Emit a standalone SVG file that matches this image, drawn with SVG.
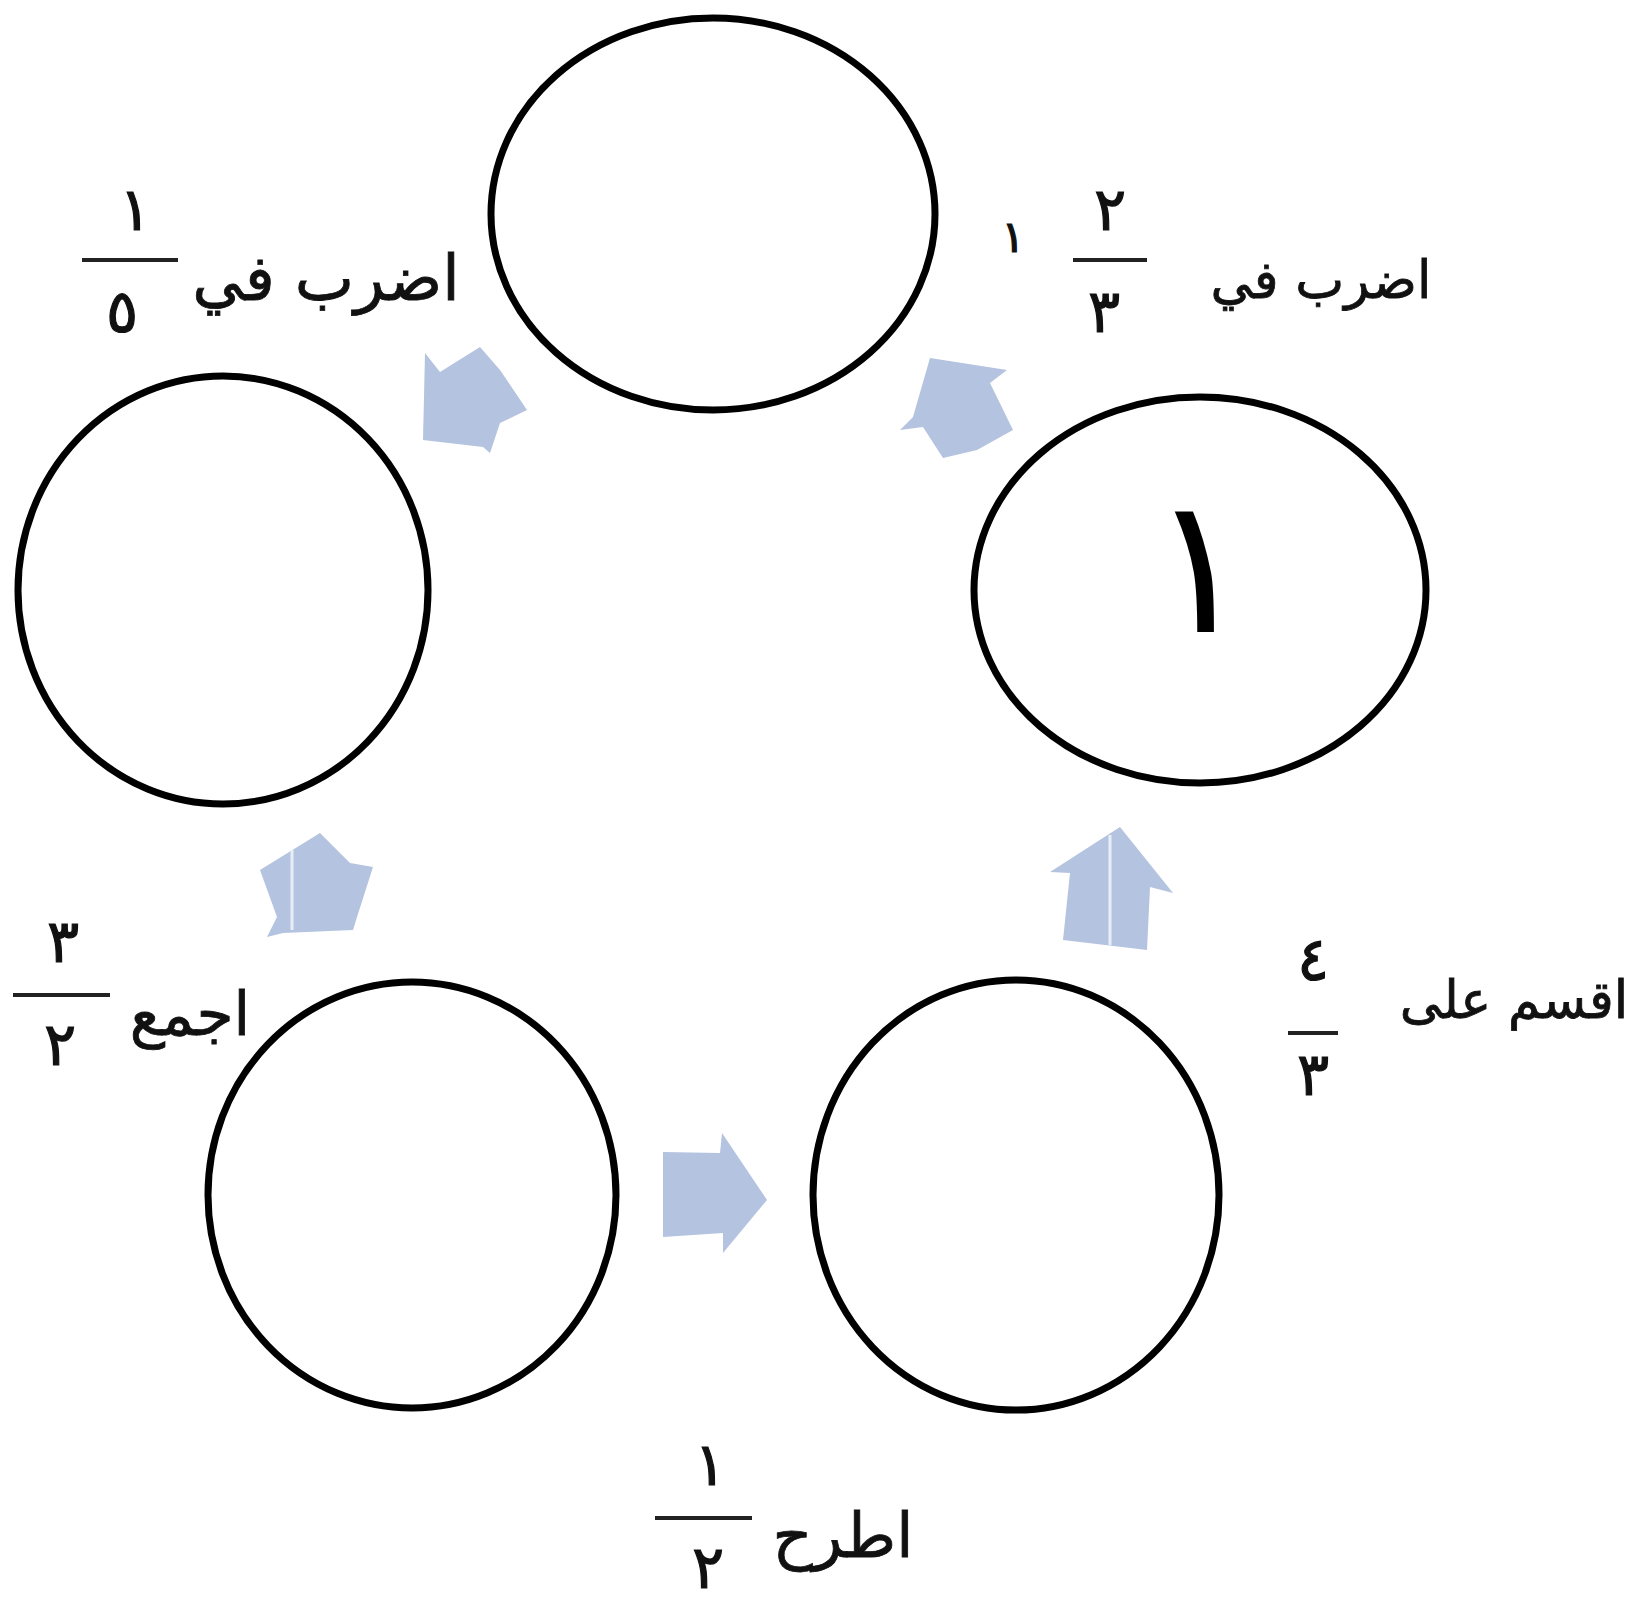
<svg xmlns="http://www.w3.org/2000/svg" width="1637" height="1602" viewBox="0 0 1637 1602">
<style>
.node{fill:none;stroke:#000;stroke-width:7}
.arrow{fill:#b4c3df;stroke:none}
.lbl{font-family:"DejaVu Sans","Noto Sans",sans-serif;font-size:60px;fill:#111;text-anchor:middle;stroke:#111;stroke-width:0.8}
.num{font-family:"DejaVu Sans","Noto Sans",sans-serif;font-size:60px;fill:#111;text-anchor:middle;stroke:#111;stroke-width:1.2}
.bar{stroke:#222;stroke-width:4}
.sep{stroke:#e8eef8;stroke-width:3}
</style>
<rect width="1637" height="1602" fill="#fff"/>
<g id="connectors">
<g id="arrow-top-left"><polygon class="arrow" points="425,353 440,372 480,347 500,370 527,410 500,423 490,453 483,447 423,440"/></g>
<g id="arrow-top-right"><polygon class="arrow" points="930,358 1007,370 990,383 1013,430 977,450 943,458 923,427 900,430 913,417"/></g>
<g id="arrow-left"><polygon class="arrow" points="260,870 320,833 350,863 373,867 357,917 353,930 283,933 267,937 277,917"/><line class="sep" x1="292" y1="850" x2="292" y2="930"/></g>
<g id="arrow-right"><polygon class="arrow" points="1120,827 1173,893 1150,887 1147,950 1063,940 1070,873 1050,872"/><line class="sep" x1="1110" y1="835" x2="1110" y2="945"/></g>
<g id="arrow-bottom"><polygon class="arrow" points="663,1152 720,1153 722,1133 767,1200 723,1253 723,1233 663,1237"/></g>
</g>
<g id="node-top"><ellipse class="node" cx="713" cy="214" rx="222" ry="196"/></g>
<g id="node-right"><ellipse class="node" cx="1200" cy="590" rx="226" ry="193"/>
<text x="1200" y="632" font-family="DejaVu Sans, Noto Sans, sans-serif" font-size="190" text-anchor="middle" fill="#000">١</text></g>
<g id="node-left"><ellipse class="node" cx="223" cy="590" rx="205" ry="214"/></g>
<g id="node-bottom-left"><ellipse class="node" cx="412" cy="1195" rx="204" ry="213"/></g>
<g id="node-bottom-right"><ellipse class="node" cx="1016" cy="1195" rx="203" ry="215"/></g>
<g id="label-top-left">
<text class="lbl" x="326" y="300" style="font-size:63px">اضرب في</text>
<line class="bar" x1="82" y1="260" x2="178" y2="260"/>
<text class="num" x="135" y="230">١</text>
<text class="num" x="122" y="332">٥</text>
</g>
<g id="label-top-right">
<text class="lbl" x="1321" y="298" style="font-size:52px">اضرب في</text>
<line class="bar" x1="1073" y1="260" x2="1147" y2="260"/>
<text class="num" x="1110" y="230">٢</text>
<text class="num" x="1104" y="332">٣</text>
<text class="num" x="1013" y="252" style="font-size:44px">١</text>
</g>
<g id="label-left">
<text class="lbl" x="190" y="1035">اجمع</text>
<line class="bar" x1="13" y1="995" x2="110" y2="995"/>
<text class="num" x="63" y="962">٣</text>
<text class="num" x="60" y="1065">٢</text>
</g>
<g id="label-right">
<text class="lbl" x="1514" y="1018" style="font-size:52px">اقسم على</text>
<line class="bar" x1="1288" y1="1033" x2="1338" y2="1033"/>
<text class="num" x="1313" y="980">٤</text>
<text class="num" x="1313" y="1095">٣</text>
</g>
<g id="label-bottom">
<text class="lbl" x="843" y="1557" style="font-size:62px">اطرح</text>
<line class="bar" x1="655" y1="1518" x2="752" y2="1518"/>
<text class="num" x="710" y="1485">١</text>
<text class="num" x="708" y="1588">٢</text>
</g>
</svg>
